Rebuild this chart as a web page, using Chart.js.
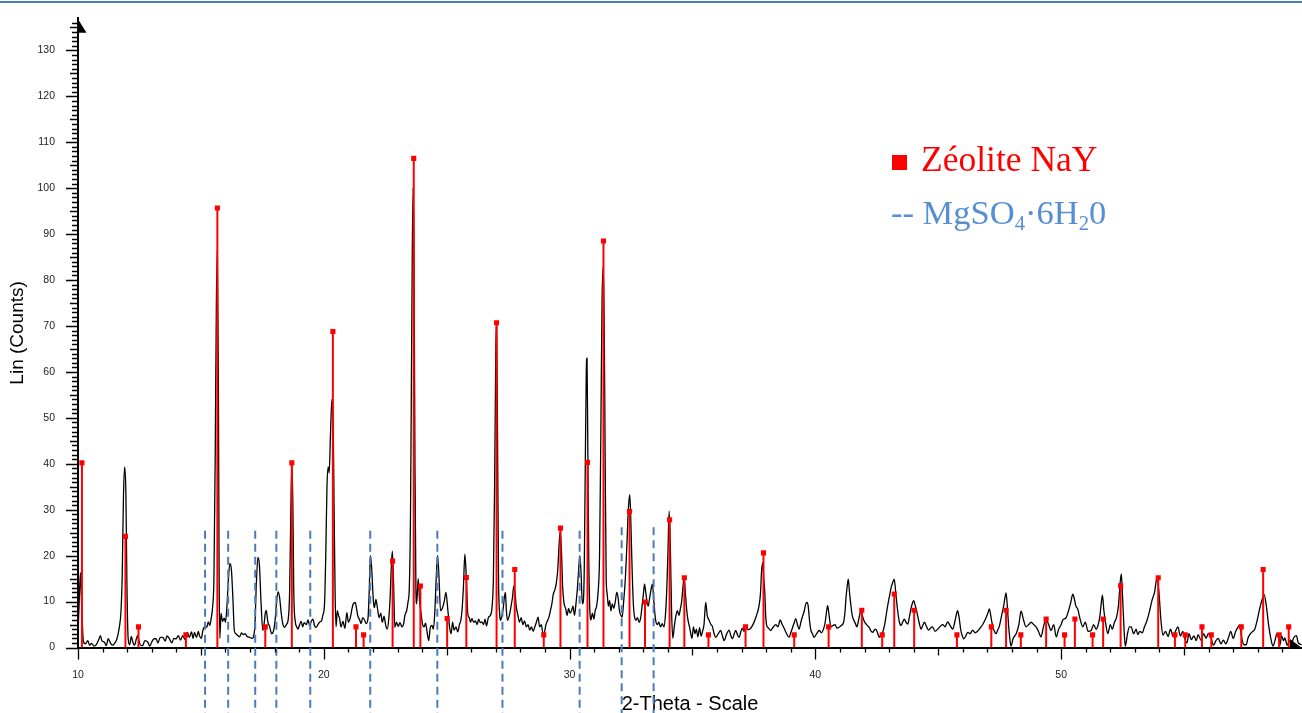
<!DOCTYPE html>
<html>
<head>
<meta charset="utf-8">
<script src="https://cdn.jsdelivr.net/npm/chart.js@4.4.1/dist/chart.umd.min.js"></script>
<style>
  html, body { margin: 0; padding: 0; background: #fff; }
  #wrap { position: relative; width: 1302px; height: 713px; overflow: hidden; }
  #topbar { position: absolute; left: 0; top: 1px; width: 1302px; height: 2px; background: #4a7ebb; }
  .leg { position: absolute; font-family: 'Liberation Serif', 'Times New Roman', serif; font-size: 34px; line-height: 34px; white-space: nowrap; }
  .leg .sq { display: inline-block; width: 15px; height: 15px; background: #ff0000; margin-right: 14px; vertical-align: 1px; }
  .leg .sub { font-size: 0.6em; position: relative; top: 0.3em; }
</style>
</head>
<body>
<div id="wrap">
  <canvas id="xrd"></canvas>
  <div id="topbar"></div>
  <div class="leg" style="left:892px;top:142px;color:#ff0000;font-size:35.5px"><span class="sq"></span>Zéolite NaY</div>
  <div class="leg" style="left:891px;top:195px;color:#558ed5;font-size:34.5px">-- MgSO<span class="sub">4</span>·6H<span class="sub">2</span>0</div>
</div>
<script>
/* XRD pattern – Zéolite NaY reference lines + MgSO4·6H2O positions */

// measured scan: [2-theta, counts]
const scanPoints = [
  [10.00,3],[10.05,10],[10.10,16.3],[10.15,9],[10.22,1.3],[10.30,0.8],[10.40,1.5],[10.47,0.5],[10.55,0.9],[10.65,0.3],
  [10.73,0.5],[10.85,1.8],[10.91,2.6],[10.97,1.5],[11.07,1.2],[11.15,0.4],[11.23,1.9],[11.32,1.0],[11.41,0.5],[11.50,1.0],
  [11.58,1.8],[11.68,4.4],[11.75,8],[11.80,16],[11.85,33],[11.90,39.3],[11.95,33],[11.99,14],[12.04,2],[12.10,0.6],
  [12.17,2.4],[12.23,1.2],[12.30,0.5],[12.38,2.0],[12.43,2.6],[12.50,1.0],[12.58,0.4],[12.64,0.5],[12.72,1.5],[12.84,1.2],
  [12.92,0.3],[13.00,1.2],[13.10,1.9],[13.18,1.9],[13.25,1.0],[13.35,2.2],[13.45,2.2],[13.55,1.4],[13.62,2.5],[13.72,1.9],
  [13.82,1.0],[13.90,2.0],[13.99,1.9],[14.08,2.6],[14.17,1.6],[14.26,2.6],[14.35,1.8],[14.45,3.3],[14.53,2.2],[14.62,3.4],
  [14.68,2.0],[14.74,3.3],[14.82,2.2],[14.90,3.5],[14.94,2.6],[15.02,2.0],[15.08,3.7],[15.16,4.6],[15.24,4.4],[15.30,5.6],
  [15.36,4.8],[15.42,6.4],[15.48,9],[15.53,15],[15.58,40],[15.63,75],[15.67,86.5],[15.71,60],[15.74,18],[15.77,2],
  [15.82,7.4],[15.88,5.7],[15.95,6.4],[16.00,5.5],[16.06,9],[16.12,15],[16.18,18.3],[16.24,17],[16.30,11],[16.36,3.7],
  [16.42,3.0],[16.50,2.6],[16.57,2.3],[16.65,3.2],[16.72,2.8],[16.80,3.0],[16.88,2.4],[16.98,2.2],[17.08,2.0],[17.15,2.6],
  [17.20,5],[17.25,13],[17.32,19.6],[17.38,18],[17.45,9.5],[17.52,3.7],[17.57,5],[17.62,7.5],[17.66,8.1],[17.72,5.7],
  [17.80,4.5],[17.88,3.0],[17.95,3.5],[18.02,6],[18.08,10],[18.14,12.1],[18.20,11],[18.27,7.4],[18.34,5],[18.40,4.4],
  [18.48,5],[18.55,6],[18.61,12],[18.66,30],[18.70,40],[18.74,32],[18.78,12],[18.84,5.7],[18.90,4.5],[18.95,4.0],
  [19.02,5.0],[19.08,5.7],[19.14,4.5],[19.20,5.4],[19.29,5.0],[19.36,6.0],[19.42,4.8],[19.49,5.7],[19.56,6.2],[19.62,4.8],
  [19.69,4.4],[19.76,5.0],[19.84,5.6],[19.90,5.7],[19.96,7],[20.03,9.5],[20.08,20],[20.13,35],[20.18,39.3],[20.22,38],
  [20.27,46],[20.33,54],[20.38,50],[20.42,30],[20.46,12],[20.50,4.5],[20.55,8],[20.60,7],[20.64,6.4],[20.70,4.5],
  [20.78,5.7],[20.86,4.2],[20.94,7.6],[21.00,5.5],[21.08,6.5],[21.15,8.5],[21.20,9.5],[21.28,9.8],[21.32,8.9],[21.38,7],
  [21.46,6],[21.52,5.2],[21.58,6.5],[21.66,6],[21.72,5.2],[21.80,6.4],[21.84,11],[21.90,20],[21.95,17],[22.02,10],
  [22.06,8.7],[22.12,10.5],[22.18,8.7],[22.25,6.5],[22.32,7.5],[22.38,5.5],[22.45,6.8],[22.52,4.8],[22.58,4.0],[22.64,6],
  [22.70,11],[22.75,18],[22.79,21],[22.84,14],[22.89,4.4],[22.96,5.5],[23.03,4.6],[23.10,5.4],[23.18,4.5],[23.25,5.2],
  [23.30,7],[23.37,8],[23.43,10],[23.48,13],[23.53,30],[23.58,70],[23.63,100],[23.67,85],[23.71,40],[23.75,12],
  [23.78,9.5],[23.84,15],[23.90,10],[23.96,7.3],[24.02,5],[24.08,4.5],[24.14,5.3],[24.20,3.5],[24.27,1.5],[24.33,4.2],
  [24.40,4.8],[24.46,4.0],[24.52,8],[24.57,14.5],[24.63,20],[24.69,15],[24.75,8],[24.82,8.5],[24.90,10],[24.97,12],
  [25.05,8],[25.12,4.4],[25.18,3],[25.24,5.5],[25.30,3.8],[25.38,4.5],[25.45,3.4],[25.52,5],[25.58,6],[25.63,8.5],
  [25.68,13],[25.74,20.3],[25.80,15],[25.86,7.3],[25.92,6.5],[25.97,5.5],[26.03,6.3],[26.10,5.5],[26.17,5.8],[26.24,5],
  [26.30,6.2],[26.37,5.4],[26.43,5.6],[26.50,5],[26.56,6.2],[26.62,4.7],[26.70,6.6],[26.78,7],[26.85,9],[26.90,15],
  [26.95,35],[27.00,65],[27.03,71],[27.07,45],[27.11,15],[27.16,7],[27.19,5.9],[27.25,7],[27.30,8.5],[27.35,11],
  [27.39,12],[27.43,8],[27.47,5.9],[27.55,7],[27.62,9],[27.68,11],[27.73,13.4],[27.78,12],[27.83,9],[27.90,7],
  [27.96,5.5],[28.03,6.5],[28.10,5.0],[28.17,5.8],[28.24,4.5],[28.31,5],[28.38,3.8],[28.45,4.5],[28.52,3.5],[28.58,4.4],
  [28.65,5.5],[28.72,6.6],[28.78,4.5],[28.85,5],[28.92,3],[28.97,3.2],[29.04,5],[29.10,5.8],[29.16,6.6],[29.22,8],
  [29.28,9.5],[29.34,11.7],[29.40,12.5],[29.46,14],[29.52,17],[29.57,22],[29.62,25.4],[29.67,21],[29.72,13],[29.78,9.5],
  [29.84,8.5],[29.90,7],[29.96,8.5],[30.02,7.5],[30.08,8],[30.14,9],[30.20,7],[30.26,9.5],[30.32,13],[30.37,17],
  [30.42,20],[30.47,16],[30.52,9.5],[30.56,10],[30.60,18],[30.64,40],[30.68,60],[30.71,63],[30.74,45],[30.78,20],
  [30.82,9],[30.87,6],[30.93,7.5],[30.99,6.2],[31.04,8],[31.10,9],[31.16,12],[31.22,20],[31.27,45],[31.32,75],
  [31.37,83],[31.41,70],[31.45,40],[31.49,15],[31.53,11.7],[31.58,9],[31.63,10.2],[31.68,8],[31.74,9.5],[31.80,8.5],
  [31.86,10],[31.92,12],[31.97,11],[32.03,8],[32.09,7],[32.14,6.6],[32.20,10],[32.27,15],[32.33,22],[32.39,30],
  [32.45,33.3],[32.50,26],[32.55,16],[32.60,9],[32.65,6.5],[32.70,5.9],[32.76,6.5],[32.83,5.5],[32.89,6.4],[32.95,9],
  [33.01,12],[33.05,13.8],[33.10,12],[33.15,10],[33.20,9],[33.25,10.5],[33.31,12.5],[33.37,13.8],[33.43,10],[33.50,6],
  [33.57,5],[33.63,5.5],[33.70,4.5],[33.77,5.2],[33.84,4.5],[33.90,7],[33.95,12],[34.00,20],[34.05,29.7],[34.10,22],
  [34.15,8],[34.20,2],[34.27,5],[34.33,7],[34.39,8],[34.45,7],[34.51,8.5],[34.56,10],[34.61,13],[34.66,15.2],
  [34.71,12],[34.77,8],[34.82,5.9],[34.88,4.5],[34.93,3],[34.98,2],[35.04,4.5],[35.10,3],[35.16,4],[35.22,2.3],
  [35.29,4.3],[35.35,2.5],[35.41,3.5],[35.47,5],[35.54,9.8],[35.60,7],[35.68,5.9],[35.75,5],[35.81,4.6],[35.88,3],
  [35.95,2.2],[36.05,3.0],[36.15,3.7],[36.22,2.5],[36.29,1.5],[36.38,2.8],[36.49,3.8],[36.56,2.6],[36.63,1.9],[36.70,3.0],
  [36.76,3.7],[36.83,2.8],[36.90,2.2],[36.97,3.5],[37.03,4.2],[37.10,3.5],[37.17,4.5],[37.25,3.9],[37.37,4.2],[37.48,5.2],
  [37.58,6.6],[37.71,9.1],[37.77,12],[37.81,16.5],[37.86,18.5],[37.90,15],[37.94,12.3],[37.98,7],[38.02,4.8],[38.10,4.2],
  [38.18,3.7],[38.28,4.4],[38.39,5],[38.48,4.5],[38.57,6],[38.65,5],[38.73,4.2],[38.83,3.0],[38.93,2.2],[39.00,3.2],
  [39.07,4.3],[39.14,5.4],[39.20,6.3],[39.27,5.0],[39.34,4],[39.41,5.5],[39.48,6.8],[39.55,8],[39.61,9.5],[39.66,9.8],
  [39.71,9.0],[39.76,6],[39.82,3.7],[39.88,3.0],[39.95,2.2],[40.05,3.0],[40.16,3.7],[40.25,3.2],[40.33,4],[40.40,5.5],
  [40.46,8],[40.50,9.1],[40.56,7],[40.63,4.5],[40.72,4.8],[40.80,5],[40.88,4.2],[40.97,4.4],[41.05,4.8],[41.15,5.5],
  [41.21,8],[41.25,11],[41.30,13.5],[41.34,14.9],[41.39,12],[41.45,9],[41.50,7],[41.56,6],[41.63,5.2],[41.69,4.5],
  [41.76,6],[41.82,7.5],[41.85,8],[41.92,6.8],[41.99,5.7],[42.08,5],[42.19,4.4],[42.26,3.6],[42.33,3.3],[42.40,3.8],
  [42.46,4],[42.53,3.2],[42.60,2.2],[42.67,2.8],[42.74,3.3],[42.82,5],[42.88,7],[42.94,9],[43.01,11],[43.08,13],
  [43.15,14.2],[43.21,14.9],[43.27,12],[43.35,8],[43.42,5.5],[43.49,4.8],[43.55,5.5],[43.62,6.2],[43.69,5.5],[43.76,5.1],
  [43.83,6.8],[43.90,8.7],[43.96,9.8],[44.00,10.2],[44.07,9],[44.14,7.5],[44.22,5.5],[44.30,4],[44.37,4.8],[44.44,5.5],
  [44.52,4.6],[44.60,3.8],[44.68,4.2],[44.77,4.5],[44.87,3.5],[44.98,4],[45.08,4.6],[45.18,5],[45.28,4.5],[45.38,5.6],
  [45.48,4.8],[45.59,4],[45.67,5.5],[45.73,7],[45.79,8],[45.85,6.5],[45.92,3.7],[45.98,2.5],[46.04,1.9],[46.12,2.5],
  [46.20,3.3],[46.30,3.0],[46.40,3.8],[46.50,3.2],[46.61,3.6],[46.70,4.2],[46.81,5],[46.94,6.4],[47.02,7.5],[47.08,8.4],
  [47.15,6.5],[47.22,4.5],[47.29,3.5],[47.35,3],[47.42,3.8],[47.49,4.7],[47.58,7],[47.66,9],[47.72,11],[47.76,11.9],
  [47.81,9],[47.86,5],[47.91,2],[47.96,0.3],[48.05,2],[48.17,3],[48.28,5],[48.37,7.9],[48.47,6],[48.57,4.5],
  [48.68,5],[48.78,5.5],[48.88,5],[48.98,4.5],[49.08,3.5],[49.18,2.3],[49.28,4.5],[49.39,6.2],[49.49,5],[49.59,3.7],
  [49.70,5],[49.80,2.3],[49.90,4],[50.00,5],[50.07,6],[50.20,6.5],[50.30,8],[50.40,10],[50.47,11.6],[50.52,11],
  [50.60,9],[50.68,8.3],[50.78,6],[50.88,4.5],[50.98,5.5],[51.10,3.5],[51.22,3.7],[51.32,5],[51.42,4],[51.50,4.8],
  [51.58,7],[51.64,10],[51.68,11.4],[51.74,8],[51.82,5],[51.90,3],[52.00,5],[52.08,4],[52.17,5.5],[52.25,6.5],
  [52.33,9],[52.40,14],[52.45,16],[52.50,11],[52.56,4],[52.61,0.3],[52.70,3],[52.78,4.5],[52.85,4.5],[52.95,3],
  [53.05,4],[53.12,2.8],[53.20,3.5],[53.30,3.2],[53.39,4.5],[53.50,6],[53.60,8],[53.70,10.3],[53.80,12],[53.90,15.2],
  [53.98,12],[54.06,6],[54.14,2.7],[54.25,3.5],[54.35,2.4],[54.45,4],[54.55,2.5],[54.65,3.5],[54.75,4.5],[54.85,2.5],
  [54.95,3.5],[55.02,2.1],[55.12,1],[55.20,3],[55.30,1.7],[55.40,2.5],[55.50,1.5],[55.57,2.8],[55.70,1.5],[55.80,3],
  [55.90,2],[55.98,3],[56.10,2],[56.20,0.5],[56.30,1.5],[56.39,2],[56.50,0.8],[56.60,1.6],[56.70,0.8],[56.80,2],
  [56.90,3.5],[57.00,2],[57.10,3.5],[57.20,4.5],[57.27,4.9],[57.35,2],[57.45,0.6],[57.53,0.6],[57.60,2],[57.70,3],
  [57.80,3.5],[57.88,4],[57.98,6],[58.08,8.5],[58.18,10.5],[58.26,11.5],[58.35,9],[58.44,5],[58.53,2],[58.62,0.3],
  [58.70,1.5],[58.78,3],[58.83,2.7],[58.90,0.5],[58.97,2.5],[59.05,1.5],[59.10,2.1],[59.20,0.5],[59.30,1.5],[59.37,0.7],
  [59.45,2],[59.57,2.6],[59.65,1],[59.78,0.6]
];

// Zéolite NaY reference lines
const nayTheta = [10.16, 11.93, 12.46, 14.39, 15.67, 17.62, 18.70, 20.37, 21.31, 21.62, 22.80, 23.66, 23.93, 25.02,
  25.80, 27.03, 27.77, 28.95, 29.63, 30.73, 31.38, 32.44, 33.07, 34.07, 34.67, 35.65, 37.16, 37.89, 39.14, 40.54,
  41.89, 42.72, 43.21, 44.02, 45.76, 47.16, 47.76, 48.36, 49.39, 50.14, 50.56, 51.28, 51.71, 52.42, 53.95, 54.63,
  55.05, 55.73, 56.11, 57.33, 58.22, 58.87, 59.26];
const nayCounts = [40.2, 24.2, 4.5, 2.75, 95.7, 4.5, 40.2, 68.8, 4.5, 2.75, 18.8, 106.5, 13.4, 6.3,
  15.25, 70.7, 17.0, 2.75, 26.0, 40.3, 88.5, 29.6, 9.9, 27.8, 15.2, 2.75, 4.5, 20.6, 2.75, 4.5,
  8.1, 2.75, 11.65, 8.1, 2.75, 4.5, 8.1, 2.75, 6.2, 2.75, 6.2, 2.75, 6.2, 13.45, 15.2, 2.75,
  2.75, 4.5, 2.75, 4.5, 17.0, 2.75, 4.5];

// MgSO4·6H2O positions (dashed markers)
const mgTheta = [15.17, 16.11, 17.21, 18.07, 19.45, 21.89, 24.62, 27.27, 30.41, 32.12, 33.42];
const mgTop = [25.4, 25.4, 25.4, 25.4, 25.4, 25.4, 25.4, 25.4, 25.4, 26.2, 26.2];
const MG_BOTTOM = -15;

const xLabels = [10, 20, 30, 40, 50];
const yLabels = [0, 10, 20, 30, 40, 50, 60, 70, 80, 90, 100, 110, 120, 130];

const stickData = [];
nayTheta.forEach((t, i) => { stickData.push({x: t, y: 0}, {x: t, y: nayCounts[i]}, {x: t, y: null}); });
const mgData = [];
mgTheta.forEach((t, i) => { mgData.push({x: t, y: mgTop[i]}, {x: t, y: MG_BOTTOM}, {x: t, y: null}); });

const axisDeco = {
  id: 'axisDeco',
  afterDraw(chart) {
    const {ctx, chartArea: a, scales: {x, y}} = chart;
    ctx.save();
    ctx.strokeStyle = '#000'; ctx.lineWidth = 1.3;
    ctx.beginPath();
    for (let v = 0; v <= 136; v++) {
      const py = Math.round(y.getPixelForValue(v)) + 0.5, len = v % 10 === 0 ? 12 : v % 5 === 0 ? 8 : 6;
      ctx.moveTo(a.left - len, py); ctx.lineTo(a.left, py);
    }
    for (let v = 10; v <= 59; v++) {
      const px = Math.round(x.getPixelForValue(v)) + 0.5, len = v % 10 === 0 ? 12 : v % 5 === 0 ? 8 : 5;
      ctx.moveTo(px, a.bottom); ctx.lineTo(px, a.bottom + len);
    }
    ctx.stroke();
    ctx.fillStyle = '#000';
    ctx.beginPath(); ctx.moveTo(a.left - 0.5, a.top); ctx.lineTo(a.left + 8.5, a.top + 14.5); ctx.lineTo(a.left - 0.5, a.top + 14.5); ctx.fill();
    ctx.beginPath(); ctx.moveTo(a.right - 12, a.bottom - 8.5); ctx.lineTo(a.right, a.bottom + 0.5); ctx.lineTo(a.right - 12, a.bottom + 0.5); ctx.fill();
    ctx.restore();
  }
};

new Chart(document.getElementById('xrd'), {
  type: 'line',
  data: {
    datasets: [
      { label: 'Zéolite NaY', data: stickData, borderColor: '#ff0000', borderWidth: 2, spanGaps: false,
        pointStyle: 'rect', pointRadius: c => c.index % 3 === 1 ? 3.6 : 0, pointBackgroundColor: '#ff0000',
        pointBorderColor: '#ff0000', pointBorderWidth: 0, tension: 0 },
      { label: 'MgSO4·6H2O', data: mgData, borderColor: '#4a7cb8', borderWidth: 2, borderDash: [8, 5],
        spanGaps: false, pointRadius: 0, clip: false, tension: 0 },
      { label: 'scan', data: scanPoints.map(p => ({x: p[0], y: p[1]})), borderColor: '#000', borderWidth: 1.3,
        pointRadius: 0, cubicInterpolationMode: 'monotone' }
    ]
  },
  options: {
    responsive: true, maintainAspectRatio: false, animation: false,
    layout: { padding: { top: 15, right: 0, left: 0, bottom: 0 } },
    plugins: { legend: { display: false }, tooltip: { enabled: false } },
    scales: {
      x: { type: 'linear', min: 10, max: 59.8,
        afterBuildTicks: s => { s.ticks = xLabels.map(v => ({value: v})); },
        afterFit: s => { s.height = 65.5; },
        grid: { drawOnChartArea: false, tickLength: 10, tickColor: 'rgba(0,0,0,0)' },
        border: { display: true, color: '#000', width: 2 },
        ticks: { color: '#222', padding: 11, maxRotation: 0, font: { family: 'Liberation Sans', size: 10.5 } },
        title: { display: true, text: '2-Theta - Scale', color: '#000', padding: { top: 0, bottom: -3 },
          font: { family: 'Liberation Sans', size: 20 } } },
      y: { type: 'linear', min: 0, max: 137,
        afterBuildTicks: s => { s.ticks = yLabels.map(v => ({value: v})); },
        afterFit: s => { s.width = 78; },
        grid: { drawOnChartArea: false, tickLength: 11, tickColor: 'rgba(0,0,0,0)' },
        border: { display: true, color: '#000', width: 2 },
        ticks: { color: '#222', padding: 12, font: { family: 'Liberation Sans', size: 10.5 } },
        title: { display: true, text: 'Lin (Counts)', color: '#000', padding: { top: 6, bottom: 0 },
          font: { family: 'Liberation Sans', size: 19 } } }
    }
  },
  plugins: [axisDeco]
});
</script>
</body>
</html>
